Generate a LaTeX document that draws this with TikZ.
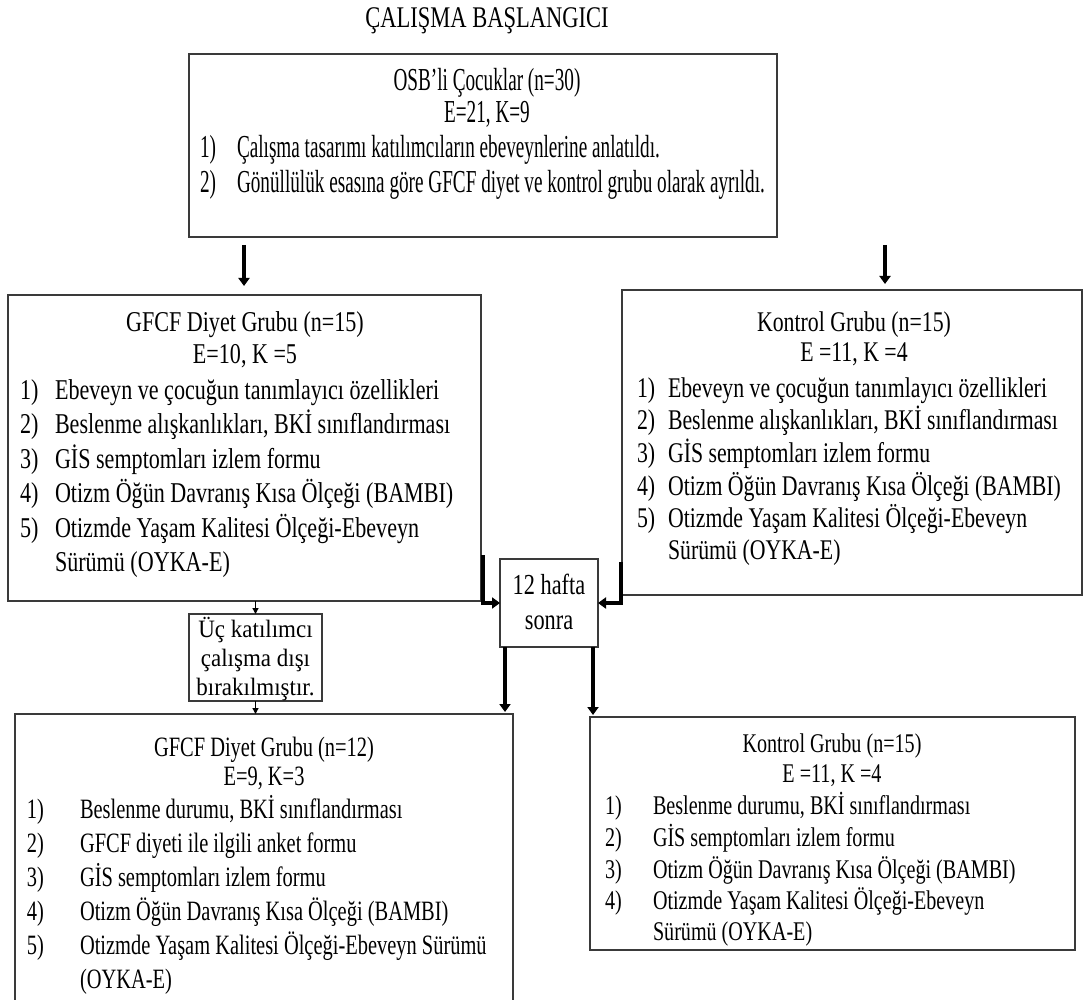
\documentclass[tikz,border=0pt]{standalone}
\usepackage{fontspec}
\setmainfont{Liberation Serif}
\newfontfamily\fTi[FakeStretch=0.75]{Liberation Serif}
\newfontfamily\fTo[FakeStretch=0.60]{Liberation Serif}
\newfontfamily\fMi[FakeStretch=0.77]{Liberation Serif}
\newfontfamily\fRi[FakeStretch=0.765]{Liberation Serif}
\newfontfamily\fUc[FakeStretch=0.92]{Liberation Serif}
\newfontfamily\fBl[FakeStretch=0.73]{Liberation Serif}
\newfontfamily\fBr[FakeStretch=0.745]{Liberation Serif}
\usetikzlibrary{arrows.meta,calc}
\definecolor{bordergray}{HTML}{3A3A3A}
\begin{document}
\begin{tikzpicture}[x=1pt,y=-1pt,
 box/.style={draw=bordergray,line width=1.6pt,inner sep=0pt,outer sep=0pt},
 t/.style={inner sep=0pt,outer sep=0pt,anchor=base},
 tl/.style={inner sep=0pt,outer sep=0pt,anchor=base west},
 thk/.style={line width=3.8pt,-{Triangle[length=8pt,width=11pt]}},
 thn/.style={line width=1.2pt,-{Triangle[length=6pt,width=6pt]}},
 sTi/.style={font=\fTi\fontsize{30}{35}\selectfont},
 sTo/.style={font=\fTo\fontsize{32}{35}\selectfont},
 sLm/.style={font=\fMi\fontsize{28.7}{34}\selectfont},
 sRm/.style={font=\fRi\fontsize{28.5}{33}\selectfont},
 sMd/.style={font=\fMi\fontsize{29}{35}\selectfont},
 sUc/.style={font=\fUc\fontsize{25}{29}\selectfont},
 sBl/.style={font=\fBl\fontsize{28}{34}\selectfont},
 sBr/.style={font=\fBr\fontsize{27}{31}\selectfont},
]
\useasboundingbox[fill=white] (0,0) rectangle (1089,1000);

% title
\node[t,sTi] (title) at (487,28) {ÇALIŞMA BAŞLANGICI};

% boxes
\node[box,minimum width=588pt,minimum height=183pt] (top) at (483,145.5) {};
\node[box,minimum width=473pt,minimum height=306pt] (L) at (244.5,448) {};
\node[box,minimum width=460pt,minimum height=305pt] (R) at (852,442.5) {};
\node[box,minimum width=98pt,minimum height=88pt] (mid) at (549,603) {};
\node[box,minimum width=133pt,minimum height=87pt] (U) at (255.5,657.5) {};
\node[box,minimum width=498pt,minimum height=300pt] (BL) at (264,864) {};
\node[box,minimum width=485pt,minimum height=233pt] (BR) at (832.5,833.5) {};

% top box text
\node[t,sTo] (to1) at (487,91) {OSB’li Çocuklar (n=30)};
\node[t,sTo] (to2) at (487,123) {E=21, K=9};
\node[tl,sTo] (to3n) at (200,158) {1)};
\node[tl,sTo] (to3) at (237,158) {Çalışma tasarımı katılımcıların ebeveynlerine anlatıldı.};
\node[tl,sTo] (to4n) at (200,193) {2)};
\node[tl,sTo] (to4) at (237,193) {Gönüllülük esasına göre GFCF diyet ve kontrol grubu olarak ayrıldı.};

% left middle box
\node[t,sLm] (l1) at (245,331) {GFCF Diyet Grubu (n=15)};
\node[t,sLm] (l2) at (245,363) {E=10, K =5};
\node[tl,sLm] (l3n) at (20,399) {1)};
\node[tl,sLm] (l3) at (55,399) {Ebeveyn ve çocuğun tanımlayıcı özellikleri};
\node[tl,sLm] (l4n) at (20,433) {2)};
\node[tl,sLm] (l4) at (55,433) {Beslenme alışkanlıkları, BKİ sınıflandırması};
\node[tl,sLm] (l5n) at (20,468) {3)};
\node[tl,sLm] (l5) at (55,468) {GİS semptomları izlem formu};
\node[tl,sLm] (l6n) at (20,502) {4)};
\node[tl,sLm] (l6) at (55,502) {Otizm Öğün Davranış Kısa Ölçeği (BAMBI)};
\node[tl,sLm] (l7n) at (20,537) {5)};
\node[tl,sLm] (l7) at (55,537) {Otizmde Yaşam Kalitesi Ölçeği-Ebeveyn};
\node[tl,sLm] (l8) at (55,571) {Sürümü (OYKA-E)};

% right middle box
\node[t,sRm] (r1) at (854,331) {Kontrol Grubu (n=15)};
\node[t,sRm] (r2) at (854,361) {E =11, K =4};
\node[tl,sRm] (r3n) at (637,397) {1)};
\node[tl,sRm] (r3) at (668,397) {Ebeveyn ve çocuğun tanımlayıcı özellikleri};
\node[tl,sRm] (r4n) at (637,429) {2)};
\node[tl,sRm] (r4) at (668,429) {Beslenme alışkanlıkları, BKİ sınıflandırması};
\node[tl,sRm] (r5n) at (637,462) {3)};
\node[tl,sRm] (r5) at (668,462) {GİS semptomları izlem formu};
\node[tl,sRm] (r6n) at (637,495) {4)};
\node[tl,sRm] (r6) at (668,495) {Otizm Öğün Davranış Kısa Ölçeği (BAMBI)};
\node[tl,sRm] (r7n) at (637,527) {5)};
\node[tl,sRm] (r7) at (668,527) {Otizmde Yaşam Kalitesi Ölçeği-Ebeveyn};
\node[tl,sRm] (r8) at (668,559) {Sürümü (OYKA-E)};

% middle box
\node[t,sMd] (m1) at (549,594) {12 hafta};
\node[t,sMd] (m2) at (549,629) {sonra};

% excluded box
\node[t,sUc] (u1) at (255.5,637) {Üç katılımcı};
\node[t,sUc] (u2) at (255.5,666) {çalışma dışı};
\node[t,sUc] (u3) at (255.5,695) {bırakılmıştır.};

% bottom left
\node[t,sBl] (b1) at (264,756) {GFCF Diyet Grubu (n=12)};
\node[t,sBl] (b2) at (264,785) {E=9, K=3};
\node[tl,sBl] (b3n) at (27,818) {1)};
\node[tl,sBl] (b3) at (80,818) {Beslenme durumu, BKİ sınıflandırması};
\node[tl,sBl] (b4n) at (27,852) {2)};
\node[tl,sBl] (b4) at (80,852) {GFCF diyeti ile ilgili anket formu};
\node[tl,sBl] (b5n) at (27,886) {3)};
\node[tl,sBl] (b5) at (80,886) {GİS semptomları izlem formu};
\node[tl,sBl] (b6n) at (27,920) {4)};
\node[tl,sBl] (b6) at (80,920) {Otizm Öğün Davranış Kısa Ölçeği (BAMBI)};
\node[tl,sBl] (b7n) at (27,954) {5)};
\node[tl,sBl] (b7) at (80,954) {Otizmde Yaşam Kalitesi Ölçeği-Ebeveyn Sürümü};
\node[tl,sBl] (b8) at (80,988) {(OYKA-E)};

% bottom right
\node[t,sBr] (c1) at (832,752) {Kontrol Grubu (n=15)};
\node[t,sBr] (c2) at (832,782) {E =11, K =4};
\node[tl,sBr] (c3n) at (605,814) {1)};
\node[tl,sBr] (c3) at (653,814) {Beslenme durumu, BKİ sınıflandırması};
\node[tl,sBr] (c4n) at (605,846) {2)};
\node[tl,sBr] (c4) at (653,846) {GİS semptomları izlem formu};
\node[tl,sBr] (c5n) at (605,878) {3)};
\node[tl,sBr] (c5) at (653,878) {Otizm Öğün Davranış Kısa Ölçeği (BAMBI)};
\node[tl,sBr] (c6n) at (605,909) {4)};
\node[tl,sBr] (c6) at (653,909) {Otizmde Yaşam Kalitesi Ölçeği-Ebeveyn};
\node[tl,sBr] (c7) at (653,940) {Sürümü (OYKA-E)};

% connectors
\coordinate (xl) at (244,0);
\coordinate (xr) at (885,0);
\draw[thk,shorten <=8pt,shorten >=9pt] (top.south -| xl) -- (L.north -| xl);
\draw[thk,shorten <=8pt,shorten >=6pt] (top.south -| xr) -- (R.north -| xr);

\coordinate (e1) at (483,555);
\coordinate (e2) at (621,562);
\draw[thk] (e1) |- (mid.west);
\draw[thk] (e2) |- (mid.east);

\draw[thk,shorten >=2pt] ([xshift=5pt]mid.south west) -- ([xshift=5pt]mid.south west |- BL.north);
\draw[thk,shorten >=2pt] ([xshift=-5pt]mid.south east) -- ([xshift=-5pt]mid.south east |- BR.north);

\draw[thn] (L.south -| U.north) -- (U.north);
\draw[thn] (U.south) -- (BL.north -| U.south);
\end{tikzpicture}
\end{document}
